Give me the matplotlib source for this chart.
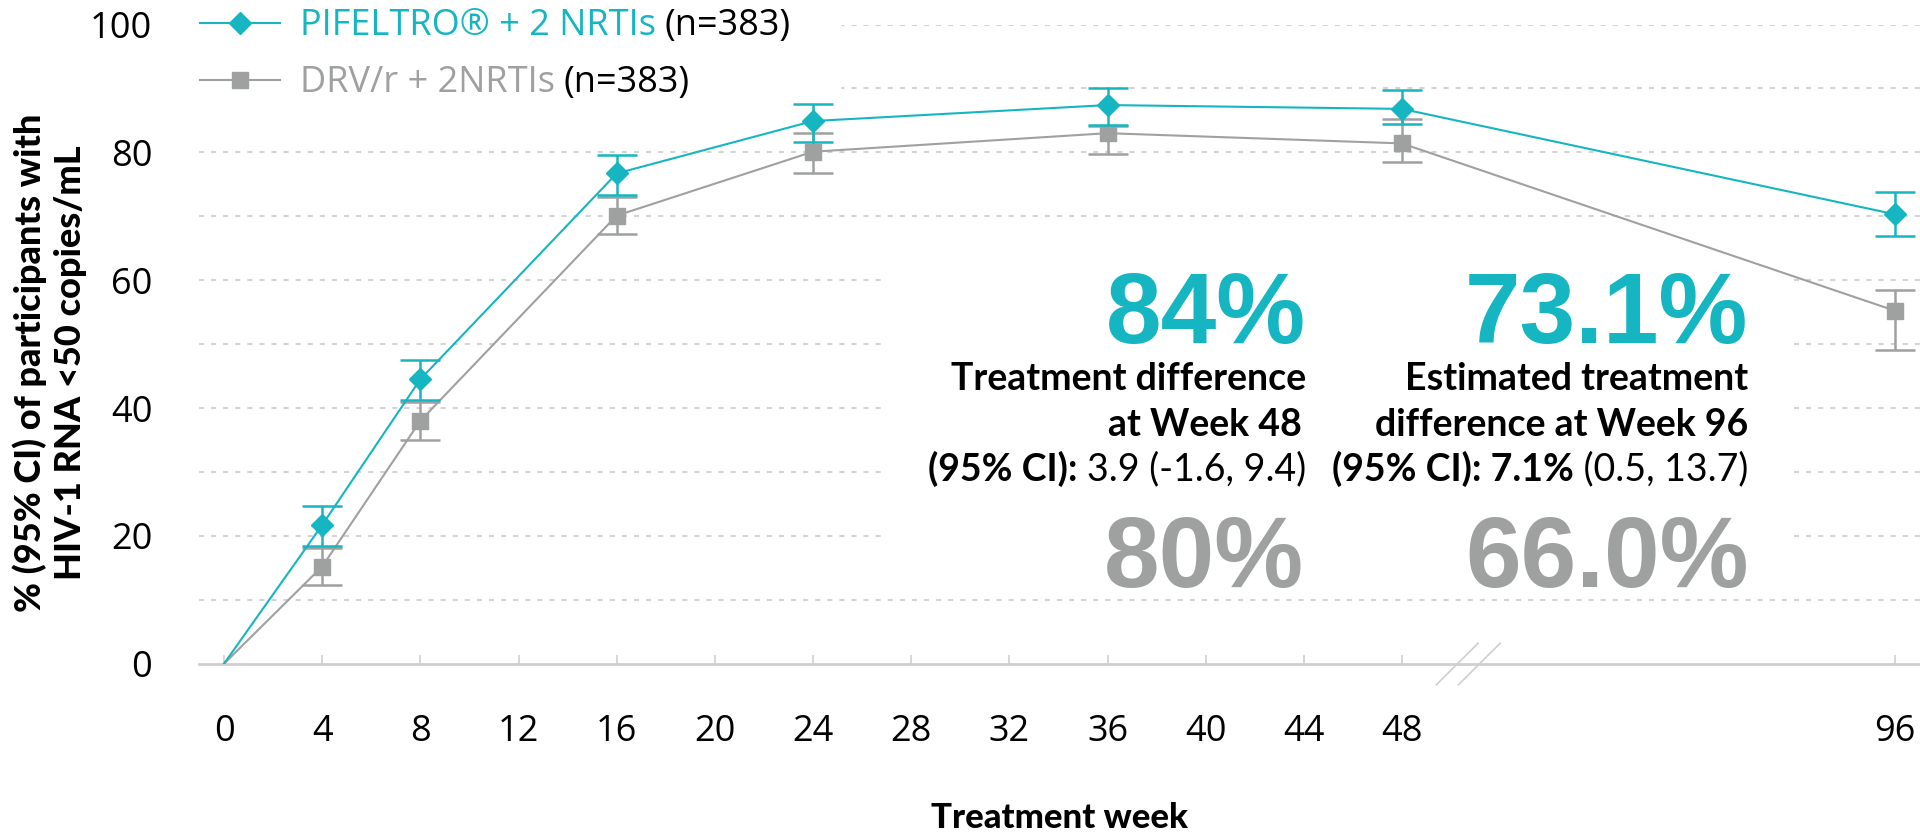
import matplotlib
matplotlib.use("Agg")
import matplotlib.pyplot as plt
from matplotlib.lines import Line2D
from matplotlib.patches import Rectangle

# --- data ---
weeks = [0, 4, 8, 16, 24, 36, 48, 96]
pif = [0, 21.7, 44.5, 76.7, 84.9, 87.4, 86.8, 70.3]
pif_lo = [0, 18.4, 41.3, 73.4, 81.6, 84.3, 84.5, 66.9]
pif_hi = [0, 24.7, 47.5, 79.6, 87.5, 90.0, 89.7, 73.8]
drv = [0, 15.2, 38.0, 70.1, 80.1, 83.0, 81.4, 55.2]
drv_lo = [0, 12.3, 35.0, 67.2, 76.8, 79.7, 78.5, 49.0]
drv_hi = [0, 18.1, 41.0, 73.0, 83.0, 84.1, 85.2, 58.4]
tick_weeks = [0, 4, 8, 12, 16, 20, 24, 28, 32, 36, 40, 44, 48, 96]
y_ticks = [0, 20, 40, 60, 80, 100]

TEAL = "#15b6c1"
GRAY = "#9fa0a0"
LIGHT = "#cfcfcf"

W, H = 1920, 840
LATO = ["Lato", "DejaVu Sans"]
LIGHTFONT = ["Open Sans", "DejaVu Sans"]
BIG = ["Liberation Sans", "DejaVu Sans"]


def xpos(w):
    # broken axis: week 96 is drawn just after 48
    return w if w <= 48 else 48 + (w - 48) * 20.1 / 48


def fx(px):
    return px / W


def fy(py):
    return 1 - py / H


fig = plt.figure(figsize=(19.2, 8.4), dpi=100)
ax = fig.add_axes([0.1039, 0.2099, 0.8960, 0.7609])
ax.set_xlim(-1, 69.1)
ax.set_ylim(0, 100)
ax.set_axisbelow(True)

for s in ["top", "right", "left"]:
    ax.spines[s].set_visible(False)
ax.spines["bottom"].set_color(LIGHT)
ax.spines["bottom"].set_linewidth(2)

# dotted grid every 10
for v in range(10, 101, 10):
    ax.axhline(v, color="#d3d3d3", lw=1.5, ls=(0, (2.4, 3.4)), zorder=0.5)

# white boxes behind legend and annotations
ax.add_patch(Rectangle((fx(195), fy(112)), fx(840 - 195), 112 / H,
                       transform=fig.transFigure, color="white", zorder=1, clip_on=False))
ax.add_patch(Rectangle((fx(882), fy(592)), fx(1790 - 882), (592 - 250) / H,
                       transform=fig.transFigure, color="white", zorder=1, clip_on=False))

xs = [xpos(w) for w in weeks]
marks = list(range(1, len(weeks)))
ax.plot(xs, drv, color=GRAY, lw=1.5, marker="s", ms=11.5, markevery=marks, zorder=3)
ax.errorbar(xs[1:], drv[1:],
            yerr=[[a - b for a, b in zip(drv[1:], drv_lo[1:])],
                  [b - a for a, b in zip(drv[1:], drv_hi[1:])]],
            fmt="none", ecolor=GRAY, elinewidth=1.8, capsize=14.4, capthick=1.8, zorder=3)
ax.plot(xs, pif, color=TEAL, lw=1.5, marker="D", ms=11.2, markevery=marks, zorder=4)
ax.errorbar(xs[1:], pif[1:],
            yerr=[[a - b for a, b in zip(pif[1:], pif_lo[1:])],
                  [b - a for a, b in zip(pif[1:], pif_hi[1:])]],
            fmt="none", ecolor=TEAL, elinewidth=1.8, capsize=14.4, capthick=1.8, zorder=4)

ax.set_xticks([xpos(w) for w in tick_weeks])
ax.set_xticklabels([str(w) for w in tick_weeks], family=LIGHTFONT, fontsize=26)
ax.tick_params(axis="x", direction="in", length=6.5, width=1.2, color=LIGHT, pad=36)
ax.set_yticks(y_ticks)
ax.set_yticklabels([str(v) for v in y_ticks], family=LIGHTFONT, fontsize=26)
ax.tick_params(axis="y", length=0, pad=34)

# axis break marks
ax.plot([49.4, 51.1], [-3.3, 3.2], color=LIGHT, lw=1.2, clip_on=False, zorder=5)
ax.plot([50.3, 52.0], [-3.3, 3.2], color=LIGHT, lw=1.2, clip_on=False, zorder=5)

# axis titles
fig.text(fx(1059), fy(818), "Treatment week", ha="center", va="center",
         fontsize=25, fontweight=900, family=LATO)
fig.text(fx(30), fy(363), "% (95% CI) of participants with", rotation=90,
         ha="center", va="center", fontsize=26, fontweight=900, family=LATO)
fig.text(fx(71), fy(363), "HIV-1 RNA <50 copies/mL", rotation=90,
         ha="center", va="center", fontsize=26, fontweight=900, family=LATO)

# legend drawn by hand
for yy, col, mk, ms, lab in [(23, TEAL, "D", 11.2, "PIFELTRO\u00ae + 2 NRTIs"),
                             (80, GRAY, "s", 11.5, "DRV/r + 2NRTIs")]:
    fig.add_artist(Line2D([fx(200), fx(240), fx(280)], [fy(yy)] * 3, color=col, lw=1.5,
                          marker=mk, ms=ms, markevery=[1], transform=fig.transFigure))
    t = fig.text(fx(300), fy(yy + 12), lab, color=col, fontsize=26, family=LIGHTFONT,
                 va="baseline", ha="left")
    ax.annotate("(n=383)", xy=(1, 0), xycoords=t, xytext=(6, 0), textcoords="offset points",
                ha="left", va="bottom", fontsize=26, family=LIGHTFONT, color="black")


def mixed_line(x, y, bold_part, reg_part):
    t = fig.text(fx(x), fy(y), reg_part, ha="right", va="baseline", fontsize=27,
                 family=LATO, color="black")
    ax.annotate(bold_part, xy=(0, 0), xycoords=t, ha="right", va="bottom",
                fontsize=27, family=LATO, fontweight="bold", color="black")


# week 48 block
fig.text(fx(1306), fy(343), "84%", ha="right", va="baseline", fontsize=72,
         fontweight="bold", family=BIG, color=TEAL)
fig.text(fx(1306), fy(390), "Treatment difference", ha="right", va="baseline",
         fontsize=27, fontweight="bold", family=LATO)
fig.text(fx(1302), fy(436), "at Week 48", ha="right", va="baseline",
         fontsize=27, fontweight="bold", family=LATO)
mixed_line(1306, 480, "(95% CI): ", "3.9 (-1.6, 9.4)")
fig.text(fx(1304), fy(587), "80%", ha="right", va="baseline", fontsize=72,
         fontweight="bold", family=BIG, color=GRAY)

# week 96 block
fig.text(fx(1748), fy(343), "73.1%", ha="right", va="baseline", fontsize=72,
         fontweight="bold", family=BIG, color=TEAL)
fig.text(fx(1748), fy(390), "Estimated treatment", ha="right", va="baseline",
         fontsize=27, fontweight="bold", family=LATO)
fig.text(fx(1748), fy(436), "difference at Week 96", ha="right", va="baseline",
         fontsize=27, fontweight="bold", family=LATO)
mixed_line(1748, 480, "(95% CI): 7.1%", " (0.5, 13.7)")
fig.text(fx(1749), fy(587), "66.0%", ha="right", va="baseline", fontsize=72,
         fontweight="bold", family=BIG, color=GRAY)

fig.savefig("out.png", dpi=100)
